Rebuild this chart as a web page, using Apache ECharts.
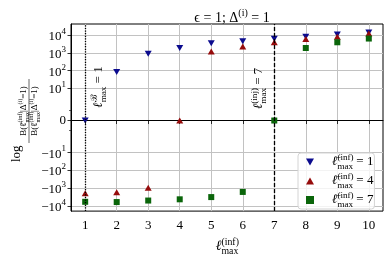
<!DOCTYPE html>
<html><head><meta charset="utf-8">
<script src="https://cdn.jsdelivr.net/npm/echarts@6/dist/echarts.min.js"></script>
<style>html,body{margin:0;padding:0;background:#fff}#c{width:390px;height:261px}</style>
</head><body><div id="c"></div>
<script>
// ---- data ----
const xValues = [1, 2, 3, 4, 5, 6, 7, 8, 9, 10];
const valsL1 = [0, 83, 910, 1890, 3470, 4620, 6240, 8100, 11000, 14100];
const valsL4 = [-1930, -1700, -966, 0, 1220, 2290, 3980, 6100, 8200, 12500];
const valsL7 = [-5890, -6100, -5010, -4270, -3200, -1640, 0, 1890, 3980, 6460];
const legendValues = ['1', '4', '7'];
const yTickValues = [-1e4, -1e3, -1e2, -1e1, 0, 1e1, 1e2, 1e3, 1e4];
const yTickExps = ['4', '3', '2', '1', '', '1', '2', '3', '4'];
const yMinorTickValues = [-1, 1];
const xTickValues = [1, 2, 3, 4, 5, 6, 7, 8, 9, 10];
const vLineX = [1, 7];

// ---- symlog scale (linthresh 2, linscale 1, base 10) ----
const LT = 2, LS = 1 / (1 - 1 / 10);
function symlog(v) {
  const a = Math.abs(v);
  if (a <= LT) return v * LS;
  return Math.sign(v) * LT * (LS + Math.log10(a / LT));
}
const FONT = "'Liberation Serif','DejaVu Serif',serif";
const yT = yTickValues.map(symlog);
function yLabel(v) {
  const i = yT.findIndex(t => Math.abs(t - v) < 1e-6);
  if (i < 0) return '';
  const val = yTickValues[i];
  if (val === 0) return '{b|0}';
  return '{b|' + (val < 0 ? '\u221210' : '10') + '}{s|' + yTickExps[i] + '}';
}
const supSubRich = (base, lpad) => ({
  l: {fontFamily: FONT, fontSize: base, fontStyle: 'italic', fontWeight: 'normal', color: '#000', align: 'left', verticalAlign: 'bottom', padding: [0, 0, 3, lpad || 0]},
  sup: {fontFamily: FONT, fontSize: base * 0.7, fontWeight: 'normal', color: '#000', align: 'left', verticalAlign: 'bottom', padding: [0, 0, 9, 0], width: 0},
  sub: {fontFamily: FONT, fontSize: base * 0.7, fontWeight: 'normal', color: '#000', align: 'left', verticalAlign: 'bottom', padding: [0, 0, 0, 0]},
  eq: {fontFamily: FONT, fontSize: base, fontWeight: 'normal', color: '#000', align: 'left', verticalAlign: 'bottom', padding: [0, 0, 3, 0]}
});

const chart = echarts.init(document.getElementById('c'), null, {renderer: 'canvas'});
const mk = (vals) => xValues.map((x, i) => [x, symlog(vals[i])]);
const names = legendValues.map(v => 'L' + v);

const option = {
  animation: false,
  backgroundColor: '#fff',
  title: {
    text: '{a|\u03f5 = 1; \u0394}{s|(i)}{a| = 1}',
    left: 227, top: 3, textAlign: 'center',
    textStyle: {
      fontWeight: 'normal',
      rich: {
        a: {fontFamily: FONT, fontSize: 14, fontWeight: 'normal', color: '#000', align: 'left', verticalAlign: 'bottom', padding: [0, 0, 0, 0]},
        s: {fontFamily: FONT, fontSize: 10, fontWeight: 'normal', color: '#000', align: 'left', verticalAlign: 'bottom', padding: [0, 0, 7, 0]}
      }
    }
  },
  grid: {left: 71, right: 7, top: 24, bottom: 46, show: true, borderColor: '#000', borderWidth: 1},
  xAxis: {
    type: 'value', min: 0.55, max: 10.45,
    axisLine: {show: true, lineStyle: {color: '#000', width: 1}},
    axisTick: {show: true, customValues: xTickValues, length: 3.5, lineStyle: {color: '#000', width: 0.8}},
    axisLabel: {customValues: xTickValues, margin: 8, fontFamily: FONT, fontSize: 13, color: '#000'},
    splitLine: {show: true, lineStyle: {color: '#c2c2c2', width: 1}},
    name: '{l|\u2113}{sup|(inf)}{sub|max}',
    nameLocation: 'middle', nameGap: 18,
    nameTextStyle: {rich: supSubRich(14)}
  },
  yAxis: [{
    type: 'value', min: -10.21, max: 10.88, position: 'left',
    axisLine: {show: true, lineStyle: {color: '#000', width: 1}},
    axisTick: {show: true, customValues: yT, length: 3.5, lineStyle: {color: '#000', width: 0.8}},
    axisLabel: {
      customValues: yT, margin: 5, formatter: yLabel,
      rich: {
        b: {fontFamily: FONT, fontSize: 13, color: '#000', align: 'left', verticalAlign: 'bottom', padding: [0, 0, 0, 0]},
        s: {fontFamily: FONT, fontSize: 9, color: '#000', align: 'left', verticalAlign: 'bottom', padding: [0, 0, 7, 0]}
      }
    },
    splitLine: {show: true, lineStyle: {color: '#c2c2c2', width: 1}}
  }, {
    type: 'value', min: -10.21, max: 10.88, position: 'left', offset: 0,
    axisLine: {show: false},
    axisTick: {show: true, customValues: yMinorTickValues.map(symlog), length: 2, lineStyle: {color: '#000', width: 0.6}},
    axisLabel: {show: false},
    splitLine: {show: false}
  }],
  legend: {
    orient: 'vertical', left: 298, top: 153,
    itemWidth: 8, itemHeight: 8, itemGap: 1,
    padding: [0, 1, 0, 8],
    backgroundColor: 'rgba(255,255,255,0.8)', borderColor: '#d4d4d4', borderWidth: 1, borderRadius: 3,
    data: names,
    formatter: (n) => '{l|\u2113\u0304}{sup|(inf)}{sub|max}{eq| = ' + n.slice(1) + '}',
    textStyle: {rich: supSubRich(13, 13)}
  },
  series: [
    {
      name: names[0], type: 'scatter', data: mk(valsL1),
      symbol: 'path://M0,0L2,0L1,1.7Z', symbolSize: [7, 6],
      itemStyle: {color: '#0b0b8e', opacity: 1}, z: 3,
      markLine: {
        silent: true, symbol: 'none', label: {show: false}, z: 10,
        data: [
          {xAxis: vLineX[0], lineStyle: {color: '#000', width: 1.3, type: [1.2, 1.4]}},
          {xAxis: vLineX[1], lineStyle: {color: '#000', width: 1.3, type: [4, 2]}}
        ]
      }
    },
    {
      name: names[1], type: 'scatter', data: mk(valsL4),
      symbol: 'path://M1,0L2,1.7L0,1.7Z', symbolSize: [7, 6],
      itemStyle: {color: '#960c0c', opacity: 1}, z: 4
    },
    {
      name: names[2], type: 'scatter', data: mk(valsL7),
      symbol: 'rect', symbolSize: 6,
      itemStyle: {color: '#0a650a', opacity: 1}, z: 5
    }
  ]
};
chart.setOption(option);

// annotations positioned via the chart's own scales
const p1 = chart.convertToPixel({gridIndex: 0}, [vLineX[0] + 0.43, symlog(12)]);
const p2 = chart.convertToPixel({gridIndex: 0}, [vLineX[1] - 0.47, symlog(10)]);
const annRich = supSubRich(13);
const fracRich = {
  t: {fontFamily: FONT, fontSize: 9, fill: '#000', align: 'left', verticalAlign: 'bottom', padding: [0, 0, 2, 0]},
  u: {fontFamily: FONT, fontSize: 6, fill: '#000', align: 'left', verticalAlign: 'bottom', padding: [0, 0, 7, 0], width: 0},
  d: {fontFamily: FONT, fontSize: 6, fill: '#000', align: 'left', verticalAlign: 'bottom', padding: [0, 0, 0, 0]},
  v: {fontFamily: FONT, fontSize: 6, fill: '#000', align: 'left', verticalAlign: 'bottom', padding: [0, 0, 7, 0]}
};
chart.setOption({
  graphic: [
    {
      type: 'text', x: p1[0], y: p1[1], rotation: Math.PI / 2, z: 20,
      style: {text: '{l|\u2113}{sup|\u212c}{sub|max}{eq| = 1}', rich: annRich, align: 'center', verticalAlign: 'middle'}
    },
    {
      type: 'text', x: p2[0], y: p2[1], rotation: Math.PI / 2, z: 20,
      style: {text: '{l|\u2113}{sup|(inj)}{sub|max}{eq| = 7}', rich: annRich, align: 'center', verticalAlign: 'middle'}
    },
    {
      type: 'group', x: 29, y: 120, rotation: Math.PI / 2,
      children: [
        {type: 'text', x: -42, y: -12, style: {text: 'log', fontFamily: FONT, fontSize: 13, fill: '#000', align: 'left', verticalAlign: 'middle'}},
        {type: 'text', x: 9, y: -5, style: {
          text: '{t|B(\u2113\u0304}{u|(inf)}{d|max}{t||\u0394}{v|(i)}{t|=1)}', align: 'center', verticalAlign: 'middle', rich: fracRich
        }},
        {type: 'line', shape: {x1: -23, y1: 0, x2: 41, y2: 0}, style: {stroke: '#000', lineWidth: 0.6}},
        {type: 'text', x: 9, y: 6, style: {
          text: '{t|B(\u2113}{u|(inf)}{d|max}{t||\u0394}{v|(i)}{t|=1)}', align: 'center', verticalAlign: 'middle', rich: fracRich
        }}
      ]
    }
  ]
});
</script>
</body></html>
